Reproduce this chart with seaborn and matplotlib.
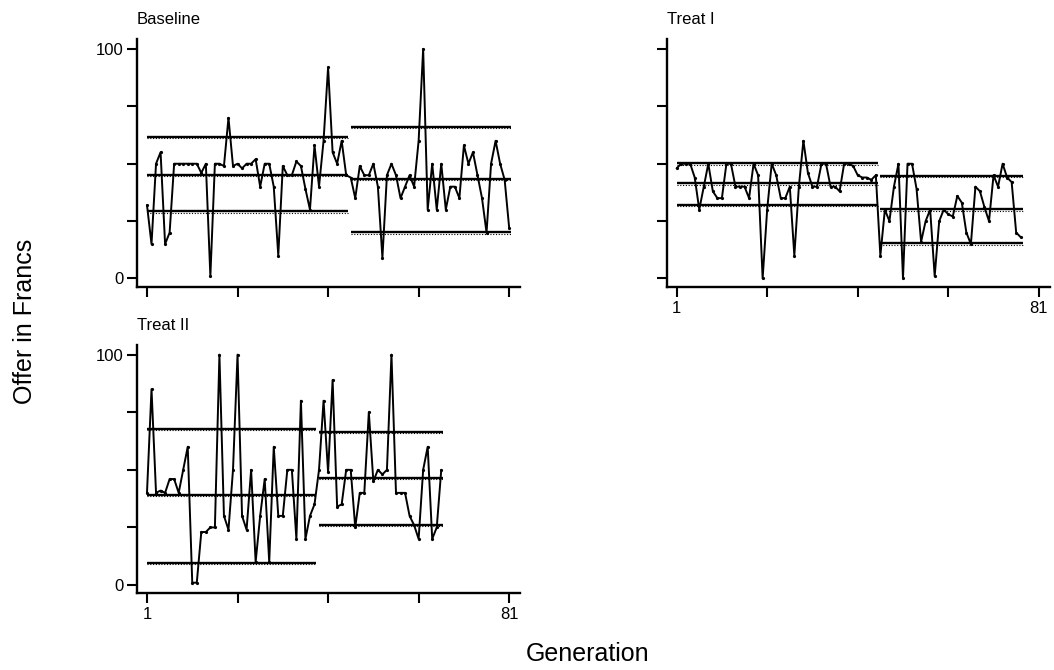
import matplotlib
matplotlib.use("Agg")
import matplotlib.pyplot as plt
import seaborn as sns
import numpy as np
import pandas as pd

# offers per generation
baseline = [32, 15, 50, 55, 15, 20, 50, 50, 50, 50, 50, 50, 46, 50, 1, 50, 50, 49, 70, 49,
            50, 48, 50, 50, 52, 40, 50, 50, 40, 10, 49, 45, 45, 51, 49, 39, 30, 58, 40, 60,
            92, 55, 50, 60, 45,
            44, 35, 49, 45, 45, 50, 40, 9, 45, 50, 45, 35, 40, 45, 40, 60, 100, 30, 50, 30,
            50, 30, 40, 40, 35, 58, 50, 55, 45, 35, 20, 50, 60, 50, 43, 22]
treat_1 = [48, 50, 50, 50, 44, 30, 40, 50, 38, 35, 35, 50, 50, 40, 40, 40, 35, 50, 45, 0,
           30, 50, 45, 35, 35, 40, 10, 40, 60, 46, 40, 40, 50, 50, 40, 40, 38, 50, 50, 49,
           45, 44, 44, 43, 45,
           10, 30, 25, 40, 50, 0, 50, 50, 39, 16, 25, 30, 1, 25, 30, 28, 27, 36, 33, 20,
           15, 40, 38, 31, 25, 45, 40, 50, 44, 42, 20, 18]
treat_2 = [40, 85, 40, 41, 40, 46, 46, 40, 50, 60, 1, 1, 23, 23, 25, 25, 100, 30, 24, 50,
           100, 30, 24, 50, 10, 30, 46, 10, 60, 30, 30, 50, 50, 20, 80, 20, 30, 35,
           50, 80, 49, 89, 34, 35, 50, 50, 25, 40, 40, 75, 45, 50, 48, 50, 100, 40, 40, 40,
           30, 26, 20, 50, 60, 20, 25, 50]

# first generation of the second block in each panel
split_gen = {"Baseline": 46, "Treat I": 46, "Treat II": 39}

# band levels (upper, centre, lower) for each block
bands = {
    "Baseline": [(61.7, 45.3, 29.3), (66.0, 43.5, 20.2)],
    "Treat I": [(50.2, 41.5, 32.0), (44.8, 30.2, 15.4)],
    "Treat II": [(67.8, 39.1, 9.7), (66.4, 46.4, 26.1)],
}

x_ticks = [1, 21, 41, 61, 81]
y_ticks = [0, 25, 50, 75, 100]

series = {"Baseline": baseline, "Treat I": treat_1, "Treat II": treat_2}

sns.set_style("ticks")
plt.rcParams["font.family"] = ["Liberation Sans", "DejaVu Sans"]
plt.rcParams["text.color"] = "black"
plt.rcParams["xtick.color"] = "black"
plt.rcParams["ytick.color"] = "black"

fig = plt.figure(figsize=(10.54, 6.7), dpi=100)
positions = {
    "Baseline": [0.130, 0.572, 0.3634, 0.3693],
    "Treat I": [0.6325, 0.572, 0.3634, 0.3693],
    "Treat II": [0.130, 0.1145, 0.3634, 0.3706],
}

for name, vals in series.items():
    ax = fig.add_axes(positions[name])
    df = pd.DataFrame({"gen": np.arange(1, len(vals) + 1), "offer": vals})
    sns.lineplot(data=df, x="gen", y="offer", ax=ax, color="black", lw=1.4,
                 marker="o", markersize=2.3, markeredgewidth=0)

    s = split_gen[name]
    blocks = [(1, s - 1), (s, len(vals))]
    for (g0, g1), levels in zip(blocks, bands[name]):
        for lev in levels:
            ax.hlines(lev, g0, g1 + 0.4, color="black", lw=1.7)
            # dotted trace under the band line
            ax.hlines(lev - 0.6, g0, g1 + 0.4, color="black", lw=0.8, ls=(0, (1, 1.5)))

    ax.set_xlim(-1.2, 83.4)
    ax.set_ylim(-3.6, 104.2)
    ax.set_xticks(x_ticks)
    ax.set_yticks(y_ticks)
    if name == "Baseline":
        ax.set_xticklabels([""] * 5)
    else:
        ax.set_xticklabels(["1", "", "", "", "81"])
    if name == "Treat I":
        ax.set_yticklabels([""] * 5)
    else:
        ax.set_yticklabels(["0", "", "", "", "100"])
    ax.tick_params(length=7, width=1.5, labelsize=12, color="black", pad=3)
    for sp in ["left", "bottom"]:
        ax.spines[sp].set_linewidth(1.7)
        ax.spines[sp].set_color("black")
    sns.despine(ax=ax)
    ax.set_xlabel("")
    ax.set_ylabel("")
    ax.set_title(name, loc="left", fontsize=12, pad=11)

fig.text(0.557, 0.024, "Generation", ha="center", va="center", fontsize=18)
fig.text(0.024, 0.52, "Offer in Francs", ha="center", va="center", rotation=90, fontsize=18)

fig.savefig("out.png", dpi=100)
